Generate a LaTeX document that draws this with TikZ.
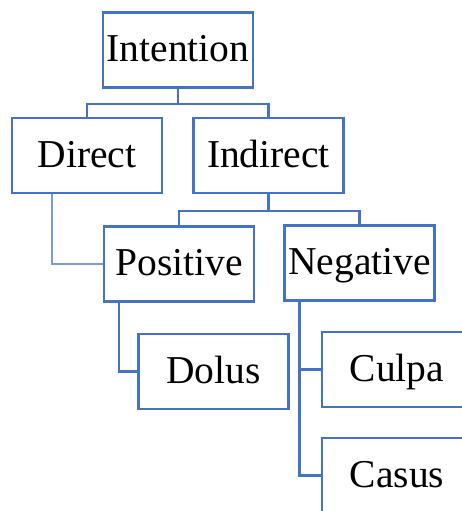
\documentclass[tikz,border=0pt]{standalone}
\usepackage{fontspec}
\setmainfont{Liberation Serif}
\definecolor{boxblue}{HTML}{4472C4}
\definecolor{lightblue}{HTML}{7A9BD8}
\begin{document}
\begin{tikzpicture}[x=1pt,y=-1pt,
  box/.style={draw=boxblue, line width=2.2pt, fill=white, minimum width=150pt, minimum height=75pt, inner sep=0pt, text height=28pt, text depth=5pt, font=\fontsize{39.5}{46}\selectfont},
  link/.style={draw=boxblue, line width=2.2pt},
  thinlink/.style={draw=lightblue, line width=1.1pt}]
\useasboundingbox (0,0) rectangle (462,511);
\clip (0,0) rectangle (462,511);
\node[box] (int) at (178,50) {Intention};
\node[box] (dir) at (87,155.5) {Direct};
\node[box] (ind) at (268.5,155.5) {Indirect};
\node[box] (pos) at (179,264) {Positive};
\node[box] (neg) at (359.5,263) {Negative};
\node[box] (dol) at (213.5,371.5) {Dolus};
\node[box] (cul) at (397,369.5) {Culpa};
\node[box] (cas) at (397,475.5) {Casus};
\draw[link] (int.south) -- ++(0,15) coordinate (j1);
\draw[link] (dir.north) |- (j1) -| (ind.north);
\draw[link] (ind.south) -- ++(0,17) coordinate (j2);
\draw[link] (pos.north) |- (j2) -| (neg.north);
\draw[thinlink] ([xshift=-35pt]dir.south) |- (pos.west);
\draw[link] ([xshift=-60pt]pos.south) |- (dol.west);
\draw[link] ([xshift=-60pt]neg.south) |- (cas.west);
\draw[link] ([xshift=-60pt]neg.south) |- (cul.west);
\end{tikzpicture}
\end{document}
